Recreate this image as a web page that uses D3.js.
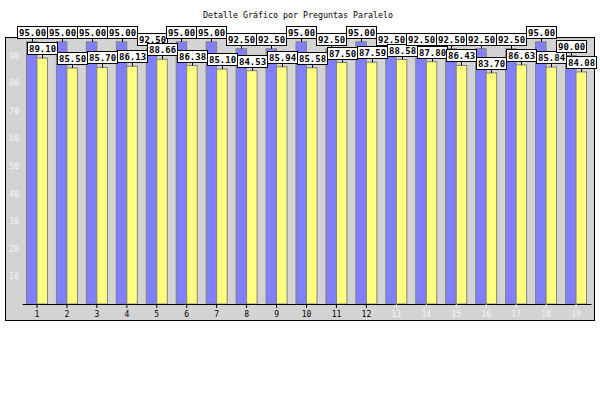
<!DOCTYPE html>
<html>
<head>
<meta charset="utf-8">
<script src="https://cdn.jsdelivr.net/npm/d3@7"></script>
<style>
body { margin: 0; background: #fff; }
text { font-family: "DejaVu Sans Mono", monospace; }
</style>
</head>
<body>
<script>
var w = 600;
var h = 400;

var preguntas = ["1","2","3","4","5","6","7","8","9","10","11","12","13","14","15","16","17","18","19"];
var serieA = [95.00, 95.00, 95.00, 95.00, 92.50, 95.00, 95.00, 92.50, 92.50, 95.00,
              92.50, 95.00, 92.50, 92.50, 92.50, 92.50, 92.50, 95.00, 90.00];
var serieB = [89.10, 85.50, 85.70, 86.13, 88.66, 86.38, 85.10, 84.53, 85.94, 85.58,
              87.50, 87.59, 88.58, 87.80, 86.43, 83.70, 86.63, 85.84, 84.08];
var yTicks = [10, 20, 30, 40, 50, 60, 70, 80, 90];
var titulo = "Detalle Gráfico por Preguntas Paralelo";

var svg = d3.select("body")
    .append("svg")
    .attr("width", w)
    .attr("height", h);

// plot area box
svg.append("rect")
    .attr("x", 5.5).attr("y", 37.5)
    .attr("width", 589).attr("height", 283)
    .attr("fill", "#d3d3d3")
    .attr("stroke", "#000");

svg.append("text")
    .attr("x", 298).attr("y", 18)
    .attr("text-anchor", "middle")
    .attr("font-size", "8.3px")
    .text(titulo);

var xScale = d3.scaleBand()
    .domain(preguntas)
    .range([22, 591]);

var yScale = d3.scaleLinear()
    .domain([0, 100])
    .range([304, 28]);

var barW = 10.5;

// y axis (white labels, no line)
var yAxis = d3.axisLeft(yScale).tickValues(yTicks).tickSize(0).tickPadding(0);
var gy = svg.append("g")
    .attr("transform", "translate(19,0)")
    .call(yAxis);
gy.select(".domain").remove();
gy.selectAll("text")
    .attr("fill", "#f4f4f4")
    .attr("font-size", "8px")
    .attr("font-family", "DejaVu Sans Mono, monospace");

// bars
var grupos = svg.selectAll("g.grupo")
    .data(preguntas)
    .enter()
    .append("g")
    .attr("class", "grupo");

grupos.append("rect")
    .attr("x", function(d) { return xScale(d) + xScale.bandwidth() / 2 - barW; })
    .attr("y", function(d, i) { return yScale(serieA[i]); })
    .attr("width", barW)
    .attr("height", function(d, i) { return yScale(0) - yScale(serieA[i]); })
    .attr("fill", "#8080ff")
    .attr("stroke", "#808080");

grupos.append("rect")
    .attr("x", function(d) { return xScale(d) + xScale.bandwidth() / 2; })
    .attr("y", function(d, i) { return yScale(serieB[i]); })
    .attr("width", barW)
    .attr("height", function(d, i) { return yScale(0) - yScale(serieB[i]); })
    .attr("fill", "#ffff80")
    .attr("stroke", "#808080");

// x axis
var xAxis = d3.axisBottom(xScale).tickSize(4).tickSizeOuter(0);
var gx = svg.append("g")
    .attr("transform", "translate(0,304)")
    .call(xAxis);
gx.select(".domain").attr("stroke", "#000");
gx.selectAll(".tick text")
    .attr("font-size", "8px")
    .attr("font-family", "DejaVu Sans Mono, monospace")
    .attr("fill", function(d, i) { return i < 12 ? "#000" : "#f4f4f4"; });
gx.selectAll(".tick line")
    .attr("stroke", function(d, i) { return i < 12 ? "#000" : "#f4f4f4"; });

// value labels with simple collision avoidance
var etiquetas = [];
preguntas.forEach(function(d, i) {
    var c = xScale(d) + xScale.bandwidth() / 2;
    etiquetas.push({ cx: c - barW / 2, v: serieA[i] });
    etiquetas.push({ cx: c + barW / 2, v: serieB[i] });
});

var colocadas = [];
function choca(b) {
    return colocadas.some(function(o) {
        var ox = Math.min(b.x + b.w, o.x + o.w) - Math.max(b.x, o.x);
        var oy = Math.min(b.y + b.h, o.y + o.h) - Math.max(b.y, o.y);
        return ox > 2 && oy > 2;
    });
}

var capa = svg.append("g");
etiquetas.forEach(function(e) {
    var t = capa.append("g");
    var txt = t.append("text")
        .attr("font-size", "9px")
        .attr("font-weight", "bold")
        .text(e.v.toFixed(2));
    var tw = txt.node().getComputedTextLength();
    var bw = Math.round(tw + 3), bh = 12;
    var top = yScale(e.v);
    var cands = [
        { x: e.cx - bw / 2, y: top - 4 - bh },
        { x: e.cx - bw / 2, y: top + 4 },
        { x: e.cx - bw / 2 + 9, y: top - 3 - bh },
        { x: e.cx - bw / 2 - 9, y: top - 3 - bh }
    ];
    var b = null;
    for (var k = 0; k < cands.length; k++) {
        var cb = { x: Math.round(cands[k].x) + 0.5, y: Math.round(cands[k].y) + 0.5, w: bw, h: bh };
        if (!choca(cb)) { b = cb; break; }
    }
    if (!b) b = { x: Math.round(cands[0].x) + 0.5, y: Math.round(cands[0].y) + 0.5, w: bw, h: bh };
    colocadas.push(b);

    var ly1 = b.y > top ? b.y : b.y + bh;
    t.insert("line", "text")
        .attr("x1", Math.round(e.cx) + 0.5).attr("x2", Math.round(e.cx) + 0.5)
        .attr("y1", ly1).attr("y2", top)
        .attr("stroke", "#000");
    t.insert("rect", "text")
        .attr("x", b.x).attr("y", b.y)
        .attr("width", b.w).attr("height", b.h)
        .attr("fill", "#fff")
        .attr("stroke", "#000");
    txt.attr("x", b.x + 1.5).attr("y", b.y + 9.5);
});
</script>
</body>
</html>
